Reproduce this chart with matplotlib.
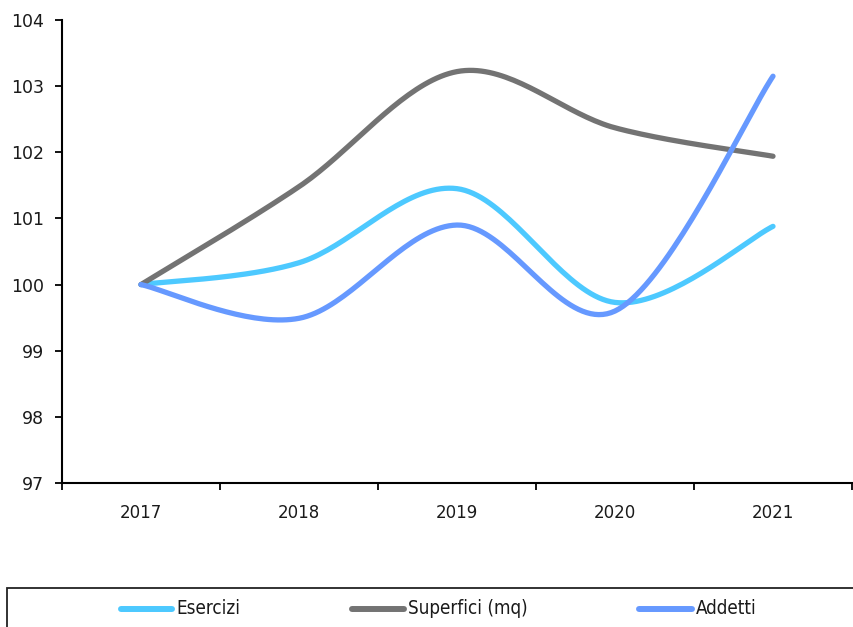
import numpy as np
import matplotlib
matplotlib.use("Agg")
import matplotlib.pyplot as plt
from matplotlib.lines import Line2D
from matplotlib.patches import Rectangle

years = ["2017", "2018", "2019", "2020", "2021"]
esercizi = [100.0, 100.33, 101.45, 99.73, 100.88]
superfici = [100.0, 101.48, 103.22, 102.37, 101.94]
addetti = [100.0, 99.49, 100.90, 99.60, 103.15]
series_names = ["Esercizi", "Superfici (mq)", "Addetti"]
colors = ["#4DC9FF", "#737373", "#6699FF"]


def smooth(xs, ys, n=40):
    xs = np.asarray(xs, float)
    ys = np.asarray(ys, float)
    P = np.column_stack([xs, ys])
    m = len(P)
    out = []
    for i in range(m - 1):
        p0 = P[i - 1] if i > 0 else P[i]
        p1 = P[i]
        p2 = P[i + 1]
        p3 = P[i + 2] if i + 2 < m else P[i + 1]
        c1 = p1 + (p2 - p0) / 6.0
        c2 = p2 - (p3 - p1) / 6.0
        t = np.linspace(0, 1, n)[:, None]
        seg = ((1 - t) ** 3) * p1 + 3 * ((1 - t) ** 2) * t * c1 + 3 * (1 - t) * t ** 2 * c2 + t ** 3 * p2
        if i > 0:
            seg = seg[1:]
        out.append(seg)
    pts = np.vstack(out)
    return pts[:, 0], pts[:, 1]


fig = plt.figure(figsize=(8.54, 6.27), dpi=100)
ax = fig.add_axes([62 / 854, 1 - 483 / 627, (852 - 62) / 854, (483 - 20) / 627])

x = np.arange(len(years))
for vals, c in zip([esercizi, superfici, addetti], colors):
    sx, sy = smooth(x, vals)
    ax.plot(sx, sy, color=c, lw=3.8, solid_capstyle="round", clip_on=False)

txt_color = "#1a1a1a"
ax.set_xlim(-0.5, len(years) - 0.5)
ax.set_ylim(97, 104)
ax.set_yticks(np.arange(97, 105, 1))
ax.set_yticklabels([str(v) for v in range(97, 105)], fontsize=12.5, family="DejaVu Sans", color=txt_color)
ax.set_xticks(np.arange(-0.5, len(years), 1))
ax.set_xticklabels([])
ax.set_xticks(x, minor=True)
ax.set_xticklabels(years, minor=True, fontsize=12, family="DejaVu Sans", color=txt_color)
ax.tick_params(axis="x", which="minor", length=0, pad=15)
ax.tick_params(axis="both", which="major", length=5, width=1.3, direction="out", color="black")
ax.tick_params(axis="y", pad=8)
for s in ["top", "right"]:
    ax.spines[s].set_visible(False)
for s in ["left", "bottom"]:
    ax.spines[s].set_linewidth(1.5)
    ax.spines[s].set_color("black")

# legend box
rect = Rectangle((7 / 854, -0.05), 1.0, 1 - 588 / 627 + 0.05, transform=fig.transFigure,
                 fill=False, edgecolor="#222222", lw=1.3, clip_on=False)
fig.patches.append(rect)

leg_y = 1 - 609 / 627
handles = [(121, 172), (352, 404), (639, 692)]
for name, c, (h0, h1) in zip(series_names, colors, handles):
    fig.add_artist(Line2D([h0 / 854, h1 / 854], [leg_y, leg_y], color=c, lw=4.3,
                          solid_capstyle="round", transform=fig.transFigure))
    fig.text((h1 + 4) / 854, leg_y, name, fontsize=13.5, va="center", ha="left",
             family="DejaVu Sans", fontstretch="condensed", color=txt_color)

fig.savefig("out.png", dpi=100)
